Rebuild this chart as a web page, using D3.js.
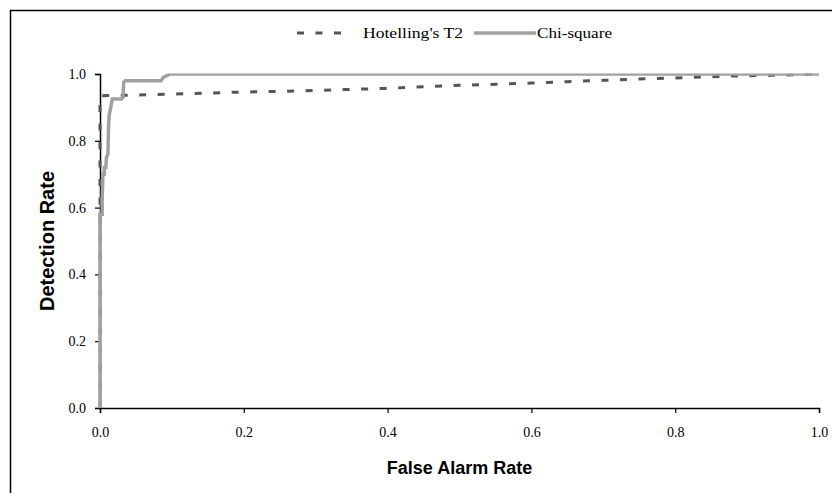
<!DOCTYPE html>
<html>
<head>
<meta charset="utf-8">
<script src="https://cdn.jsdelivr.net/npm/d3@7"></script>
<style>
	body { margin: 0; background: #fff; }
	svg { display: block; }
</style>
</head>
<body>
<script>
// ROC curves
const hotellingFar = [0, 0, 0.05, 0.1, 0.15, 0.2, 0.25, 0.3, 0.35, 0.4, 0.45, 0.5, 0.55, 0.6, 0.65, 0.7, 0.75, 0.8, 0.85, 0.9, 0.95, 1.0];
const hotellingDr  = [0, 0.935, 0.937, 0.940, 0.943, 0.946, 0.948, 0.951, 0.954, 0.957, 0.962, 0.966, 0.969, 0.973, 0.977, 0.981, 0.985, 0.988, 0.992, 0.995, 0.997, 1.0];

const chiFar = [0, 0, 0.003, 0.003, 0.004, 0.006, 0.006, 0.008, 0.009, 0.011, 0.012, 0.013, 0.015, 0.017, 0.030, 0.032, 0.033, 0.035, 0.085, 0.088, 0.093, 0.097, 1.0];
const chiDr  = [0, 0.58, 0.58, 0.62, 0.70, 0.70, 0.72, 0.72, 0.75, 0.76, 0.85, 0.88, 0.90, 0.925, 0.925, 0.93, 0.975, 0.98, 0.98, 0.99, 0.995, 1.0, 1.0];

const xTicks = [0, 0.2, 0.4, 0.6, 0.8, 1.0];
const yTicks = [0, 0.2, 0.4, 0.6, 0.8, 1.0];

const seriesNames = ["Hotelling's T2", "Chi-square"];

const width = 832, height = 493;
const margin = {left: 100, right: 13, top: 74, bottom: 85};
const serif = "'Liberation Serif', 'Times New Roman', serif";
const sans = "'Liberation Sans', Arial, sans-serif";

const svg = d3.select("body").append("svg")
	.attr("width", width)
	.attr("height", height);

// outer frame, runs off the right and bottom like the source
svg.append("rect")
	.attr("x", 10.5).attr("y", 10.5)
	.attr("width", 840).attr("height", 500)
	.attr("fill", "none")
	.attr("stroke", "#000")
	.attr("stroke-width", 1.5);

const x = d3.scaleLinear().domain([0, 1]).range([margin.left, width - margin.right]);
const y = d3.scaleLinear().domain([0, 1]).range([height - margin.bottom, margin.top]);

// plot area clip (lines at 1.0 get cut in half)
svg.append("clipPath").attr("id", "plot")
	.append("rect")
	.attr("x", x(0) - 5).attr("y", y(1) - 0.5)
	.attr("width", x(1) - x(0) + 5).attr("height", y(0) - y(1) + 5);

const line = d3.line()
	.x(d => x(d[0]))
	.y(d => y(d[1]));

const hotelling = hotellingFar.map((f, i) => [f, hotellingDr[i]]);
const chi = chiFar.map((f, i) => [f, chiDr[i]]);

// axes
const xAxis = svg.append("g")
	.attr("transform", `translate(0,${y(0)})`)
	.call(d3.axisBottom(x).tickValues(xTicks).tickFormat(d3.format(".1f")).tickSize(5).tickPadding(14));

const yAxis = svg.append("g")
	.attr("transform", `translate(${x(0)},0)`)
	.call(d3.axisLeft(y).tickValues(yTicks).tickFormat(d3.format(".1f")).tickSize(5).tickPadding(9));

[xAxis, yAxis].forEach(g => {
	g.select(".domain").attr("stroke", "#000").attr("stroke-width", 1.5);
	g.selectAll(".tick line").attr("stroke", "#000").attr("stroke-width", 1.2);
	g.selectAll(".tick text")
		.attr("font-family", serif)
		.attr("font-size", 14)
		.attr("fill", "#000");
});

// curves
const curves = svg.append("g").attr("clip-path", "url(#plot)");

curves.append("path")
	.datum(hotelling)
	.attr("d", line)
	.attr("fill", "none")
	.attr("stroke", "#555")
	.attr("stroke-width", 3)
	.attr("stroke-dasharray", "7,11.5");

curves.append("path")
	.datum(chi)
	.attr("d", line)
	.attr("fill", "none")
	.attr("stroke", "#a0a0a0")
	.attr("stroke-width", 3.5);

// axis titles
svg.append("text")
	.attr("x", x(0.5))
	.attr("y", 474)
	.attr("text-anchor", "middle")
	.attr("font-family", sans)
	.attr("font-weight", "bold")
	.attr("font-size", 18)
	.text("False Alarm Rate");

svg.append("text")
	.attr("transform", `translate(54,${y(0.5)}) rotate(-90)`)
	.attr("text-anchor", "middle")
	.attr("font-family", sans)
	.attr("font-weight", "bold")
	.attr("font-size", 20)
	.text("Detection Rate");

// legend
const legend = svg.append("g").attr("transform", "translate(297,33)");
const legendItems = [
	{x0: 0, x1: 53, tx: 66, len: 100, color: "#555", w: 3, dash: "7,11.5"},
	{x0: 177, x1: 239, tx: 240, len: 75, color: "#a0a0a0", w: 3.5, dash: null}
];
legendItems.forEach((it, i) => {
	legend.append("line")
		.attr("x1", it.x0).attr("x2", it.x1)
		.attr("y1", 0).attr("y2", 0)
		.attr("stroke", it.color)
		.attr("stroke-width", it.w)
		.attr("stroke-dasharray", it.dash);
	legend.append("text")
		.attr("x", it.tx).attr("y", 5)
		.attr("font-family", serif)
		.attr("font-size", 15)
		.attr("textLength", it.len)
		.attr("lengthAdjust", "spacingAndGlyphs")
		.text(seriesNames[i]);
});
</script>
</body>
</html>
